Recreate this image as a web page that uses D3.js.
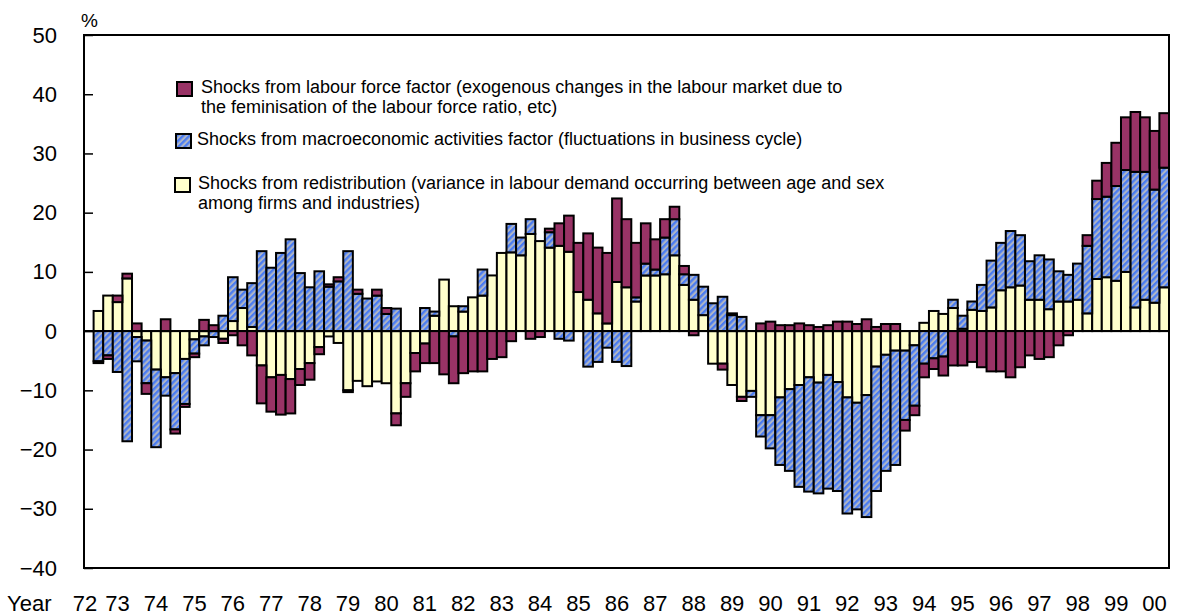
<!DOCTYPE html>
<html lang="en">
<head>
<meta charset="UTF-8">
<title>Shocks to labour demand</title>
<script src="https://d3js.org/d3.v7.min.js"></script>
<style>
    body { margin: 0; background: #fff; }
    svg { display: block; font-family: "Liberation Sans", Arial, sans-serif; }
    .tick-label { font-size: 22px; fill: #000; }
    .legend text { font-size: 18px; fill: #000; }
</style>
</head>
<body>
<div id="chart"></div>
<script>
    /*------------------- Data --------------------*/
    const yearLabels = ["72", "73", "74", "75", "76", "77", "78", "79", "80", "81", "82", "83", "84", "85",
        "86", "87", "88", "89", "90", "91", "92", "93", "94", "95", "96", "97", "98", "99", "00"];

    // one empty slot before the first quarter with data (72Q3), last quarter 00Q2
    const allQuarters = yearLabels.flatMap(y => [1, 2, 3, 4].map(q => y + "Q" + q));
    const slots = allQuarters.slice(allQuarters.indexOf("72Q2"), allQuarters.indexOf("00Q2") + 1);
    const quarters = slots.slice(1);

    // Shocks from redistribution (yellow)
    const redist = [3.4, 6.0, 4.9, 8.9, -1.0, -1.6, -6.5, -7.8, -7.1, -4.7,
        -1.4, -0.9, 0, -1.3, 1.7, 3.9, 0.7, -5.8, -7.8, -7.4,
        -8.1, -6.4, -5.4, -2.7, -0.9, -2.0, -10.0, -8.4, -9.3, -8.5,
        -8.8, -13.9, -8.8, -3.7, -2.1, 2.6, 8.7, 4.2, 3.3, 5.7,
        6.0, 9.4, 13.2, 13.3, 12.8, 16.4, 15.2, 14.1, 14.4, 13.4,
        6.6, 5.3, 3.0, 1.3, 8.3, 7.4, 5.0, 9.4, 9.4, 9.6,
        12.8, 7.8, 5.3, 2.7, -5.5, -5.5, -9.1, -11.1, -10.1, -14.2,
        -14.2, -11.2, -9.8, -9.1, -7.8, -8.7, -7.4, -8.6, -11.2, -12.1,
        -10.8, -6.0, -4.0, -3.3, -3.3, -2.4, 1.4, 3.4, 2.9, 3.9,
        0.4, 3.6, 3.4, 4.0, 6.9, 7.4, 7.7, 5.3, 5.3, 3.7,
        5.0, 5.0, 5.3, 3.0, 8.8, 9.1, 8.5, 10.0, 4.0, 5.3,
        4.8, 7.4];

    // Shocks from macroeconomic activities factor (blue hatch)
    const macro = [-5.1, -4.1, -6.9, -18.6, -4.1, -7.2, -13.1, -3.1, -9.5, -7.6,
        -2.4, -1.5, -1.0, 2.6, 7.4, 3.1, 7.4, 13.5, 10.7, 13.2,
        15.5, 9.8, 7.4, 10.1, 7.5, 8.4, 13.5, 6.3, 5.5, 6.0,
        2.9, 3.8, 0, 0, 3.9, 0.7, 0, -0.9, 0.9, 0,
        4.4, 0, 0, 4.8, 3.0, 2.5, 0, 2.6, -1.3, -1.6,
        0, -6.0, -5.2, -2.8, -5.2, -5.9, 0.7, 2.0, 1.0, 6.2,
        6.1, 1.8, 4.2, 4.8, 4.7, 5.8, 2.7, 2.4, -1.0, -3.6,
        -5.6, -11.4, -13.8, -17.2, -19.3, -18.7, -19.2, -18.4, -19.6, -18.0,
        -20.6, -21.0, -19.6, -19.3, -11.7, -10.2, -5.5, -4.6, -4.3, 1.4,
        2.2, 1.4, 4.4, 7.9, 8.0, 9.5, 8.5, 6.5, 7.5, 8.4,
        5.1, 4.5, 6.1, 11.4, 13.5, 13.6, 16.0, 17.2, 22.9, 21.6,
        19.1, 20.2];

    // Shocks from labour force factor (maroon)
    const labour = [-0.3, -0.6, 1.1, 0.8, 1.3, -1.8, 0, 2.0, -0.7, -0.5,
        -0.6, 1.9, 1.0, -0.7, -0.7, -2.4, -4.1, -6.4, -5.8, -6.7,
        -5.8, -2.7, -2.8, -1.2, 0.4, 0.7, -0.3, 0.7, 0, 1.0,
        1.0, -2.0, -2.3, -3.1, -3.3, -5.4, -7.3, -7.9, -7.1, -6.8,
        -6.8, -4.7, -4.4, -1.7, 0, -1.3, -1.0, 0.6, 3.8, 6.1,
        8.3, 11.2, 11.1, 11.9, 14.1, 11.5, 9.2, 6.8, 5.1, 3.1,
        2.1, 1.4, -0.7, 0, 0, -1.0, 0.3, -0.7, 0, 1.3,
        1.6, 1.0, 1.0, 1.3, 1.0, 0.7, 1.0, 1.6, 1.6, 1.2,
        2.0, 0.7, 1.2, 1.2, -1.8, -1.6, -2.3, -1.8, -3.2, -5.8,
        -5.8, -5.2, -6.1, -6.8, -6.8, -7.8, -6.1, -4.1, -4.7, -4.4,
        -2.4, -0.7, 0, 1.8, 3.1, 5.7, 7.3, 8.9, 10.1, 9.2,
        9.9, 9.2];

    const yTicks = [-40, -30, -20, -10, 0, 10, 20, 30, 40, 50];

    const seriesKeys = ["redist", "macro", "labour"];
    const seriesFill = { redist: "#ffffcc", macro: "url(#hatch)", labour: "#993366" };

    const legendItems = [
        { key: "labour", lines: ["Shocks from labour force factor (exogenous changes in the labour market due to",
            "the feminisation of the labour force ratio, etc)"], sx: 177, sy: 82, tx: 201, ty: 93 },
        { key: "macro", lines: ["Shocks from macroeconomic activities factor (fluctuations in business cycle)"],
            sx: 176, sy: 134, tx: 197, ty: 145 },
        { key: "redist", lines: ["Shocks from redistribution (variance in labour demand occurring between age and sex",
            "among firms and industries)"], sx: 175, sy: 178, tx: 198, ty: 189 }
    ];

    /*------------------- Chart --------------------*/
    const width = 1178, height = 615;
    const plot = { left: 84, right: 1169, top: 35, bottom: 568 };

    const svg = d3.select("#chart").append("svg")
        .attr("width", width)
        .attr("height", height);

    // blue / grey diagonal hatch
    const pat = svg.append("defs").append("pattern")
        .attr("id", "hatch")
        .attr("patternUnits", "userSpaceOnUse")
        .attr("width", 4.4)
        .attr("height", 4.4)
        .attr("patternTransform", "rotate(45)");
    pat.append("rect").attr("width", 4.4).attr("height", 4.4).attr("fill", "#aeb5c6");
    pat.append("rect").attr("width", 2.3).attr("height", 4.4).attr("fill", "#4a7cf2");

    const x = d3.scaleBand()
        .domain(slots)
        .range([plot.left, plot.right])
        .padding(0);

    const y = d3.scaleLinear()
        .domain([-40, 50])
        .range([plot.bottom, plot.top]);

    const rows = quarters.map((q, i) => ({ q: q, redist: redist[i], macro: macro[i], labour: labour[i] }));

    const stacked = d3.stack()
        .keys(seriesKeys)
        .offset(d3.stackOffsetDiverging)(rows);

    svg.append("g")
        .selectAll("g")
        .data(stacked)
        .join("g")
        .attr("fill", s => seriesFill[s.key])
        .selectAll("rect")
        .data(s => s.filter(d => d[1] !== d[0]))
        .join("rect")
        .attr("x", d => x(d.data.q))
        .attr("width", x.bandwidth())
        .attr("y", d => y(Math.max(d[0], d[1])))
        .attr("height", d => Math.abs(y(d[0]) - y(d[1])))
        .attr("stroke", "#000")
        .attr("stroke-width", 2);

    // zero line
    svg.append("line")
        .attr("x1", plot.left).attr("x2", plot.right)
        .attr("y1", y(0)).attr("y2", y(0))
        .attr("stroke", "#000")
        .attr("stroke-width", 2);

    // inner tick marks
    svg.append("g")
        .attr("transform", `translate(${plot.left},0)`)
        .call(d3.axisRight(y).tickValues(yTicks).tickSize(9).tickFormat(""))
        .call(g => g.select(".domain").remove())
        .call(g => g.selectAll("line").attr("stroke", "#000").attr("stroke-width", 1.5));

    // y labels
    svg.append("g")
        .attr("transform", `translate(${plot.left},0)`)
        .call(d3.axisLeft(y).tickValues(yTicks).tickSize(0).tickPadding(27))
        .call(g => g.select(".domain").remove())
        .call(g => g.selectAll("text").attr("class", "tick-label").attr("font-family", null).attr("font-size", null));

    // frame
    svg.append("rect")
        .attr("x", plot.left).attr("y", plot.top)
        .attr("width", plot.right - plot.left)
        .attr("height", plot.bottom - plot.top)
        .attr("fill", "none")
        .attr("stroke", "#000")
        .attr("stroke-width", 2);

    // x labels, one per year at its first quarter
    svg.append("g")
        .selectAll("text")
        .data(yearLabels)
        .join("text")
        .attr("class", "tick-label")
        .attr("text-anchor", "middle")
        .attr("x", yr => slots.includes(yr + "Q1") ? x(yr + "Q1") + x.bandwidth() / 2 : plot.left + 1)
        .attr("y", 611)
        .text(yr => yr);

    svg.append("text")
        .attr("class", "tick-label")
        .attr("x", 7)
        .attr("y", 611)
        .text("Year");

    svg.append("text")
        .attr("x", 81)
        .attr("y", 27)
        .attr("font-size", 19)
        .text("%");

    // legend
    const legend = svg.append("g").attr("class", "legend");
    legendItems.forEach(item => {
        legend.append("rect")
            .attr("x", item.sx).attr("y", item.sy)
            .attr("width", 15).attr("height", 14)
            .attr("fill", seriesFill[item.key])
            .attr("stroke", "#000")
            .attr("stroke-width", 2);
        legend.append("text")
            .selectAll("tspan")
            .data(item.lines)
            .join("tspan")
            .attr("x", item.tx)
            .attr("y", (d, i) => item.ty + i * 19.5)
            .text(d => d);
    });
</script>
</body>
</html>
